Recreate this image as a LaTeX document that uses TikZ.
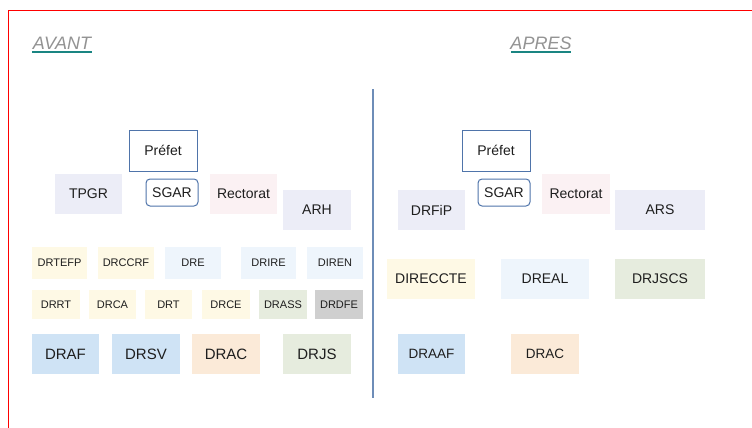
\documentclass[tikz,border=0pt]{standalone}
\usepackage{fontspec}
\setmainfont{Liberation Sans}
\definecolor{lav}{HTML}{ECEDF7}
\definecolor{pnk}{HTML}{FBF1F3}
\definecolor{yel}{HTML}{FEF9E5}
\definecolor{lbl}{HTML}{EEF5FC}
\definecolor{blu}{HTML}{CFE3F5}
\definecolor{pea}{HTML}{FBEAD8}
\definecolor{grn}{HTML}{E6ECDE}
\definecolor{gry}{HTML}{CFCFCF}
\definecolor{bord}{HTML}{4F74AA}
\definecolor{vline}{HTML}{6E8DB8}
\definecolor{teal}{HTML}{1A8582}
\definecolor{txt}{HTML}{1E1E1E}
\tikzset{
  org/.style={inner sep=0pt, text=txt, font=\fontsize{14}{16}\selectfont},
  sm/.style={font=\fontsize{11}{13}\selectfont},
  bg/.style={font=\fontsize{15}{17}\selectfont},
  md/.style={font=\fontsize{13.5}{16}\selectfont},
  ttl/.style={inner sep=0pt, text=gray!85, font=\fontsize{18}{20}\selectfont\itshape},
  uline/.style={teal, line width=2.5pt},
  topbox/.style={org, draw=bord, line width=1pt, fill=white},
}
% \bx{name}{x1}{y1}{x2}{y2}{fill}{style}{text}
\newcommand{\bx}[8]{%
  \fill[#6] (#2,#3) rectangle (#4,#5);
  \node[org,#7] (#1) at ({(#2+#4)/2},{(#3+#5)/2}) {#8};}
\begin{document}
\begin{tikzpicture}[x=1pt,y=-1pt]
\useasboundingbox (0,0) rectangle (752,428);
\fill[white] (0,0) rectangle (752,428);
% red frame
\draw[red, line width=1pt] (8.5,428) -- (8.5,10.5) -- (752,10.5);
% titles
\node[ttl] (avant) at (62,43) {AVANT};
\draw[uline] (32,52) -- (92,52);
\node[ttl] (apres) at (541,43) {APRES};
\draw[uline] (511,52) -- (571,52);
% separator
\draw[vline, line width=1.5pt] (373,89) -- (373,398);
% ---------- AVANT ----------
\node[topbox, minimum width=68pt, minimum height=41pt] (prefA) at (163,150.5) {Préfet};
\node[topbox, rounded corners=4pt, minimum width=52pt, minimum height=27pt] (sgarA) at (172,192.5) {SGAR};
\bx{tpgr}{55}{174}{122}{214}{lav}{}{TPGR}
\bx{rectA}{210}{174}{277}{214}{pnk}{}{Rectorat}
\bx{arh}{283}{190}{351}{230}{lav}{}{ARH}
% row 1
\bx{drtefp}{32}{247}{87}{279}{yel}{sm}{DRTEFP}
\bx{drccrf}{98}{247}{154}{279}{yel}{sm}{DRCCRF}
\bx{dre}{165}{247}{221}{279}{lbl}{sm}{DRE}
\bx{drire}{241}{247}{296}{279}{lbl}{sm}{DRIRE}
\bx{diren}{307}{247}{363}{279}{lbl}{sm}{DIREN}
% row 2
\bx{drrt}{32}{290}{80}{319}{yel}{sm}{DRRT}
\bx{drca}{89}{290}{136}{319}{yel}{sm}{DRCA}
\bx{drt}{145}{290}{192}{319}{yel}{sm}{DRT}
\bx{drce}{202}{290}{250}{319}{yel}{sm}{DRCE}
\bx{drass}{259}{290}{307}{319}{grn}{sm}{DRASS}
\bx{drdfe}{315}{290}{363}{319}{gry}{sm}{DRDFE}
% row 3
\bx{draf}{32}{334}{99}{374}{blu}{bg}{DRAF}
\bx{drsv}{112}{334}{180}{374}{blu}{bg}{DRSV}
\bx{dracA}{192}{334}{260}{374}{pea}{bg}{DRAC}
\bx{drjs}{283}{334}{351}{374}{grn}{bg}{DRJS}
% ---------- APRES ----------
\node[topbox, minimum width=68pt, minimum height=41pt] (prefB) at (496,150.5) {Préfet};
\node[topbox, rounded corners=4pt, minimum width=52pt, minimum height=27pt] (sgarB) at (504,192.5) {SGAR};
\bx{drfip}{398}{190}{465}{230}{lav}{}{DRFiP}
\bx{rectB}{542}{174}{610}{214}{pnk}{}{Rectorat}
\bx{ars}{615}{190}{705}{230}{lav}{}{ARS}
\bx{direccte}{387}{259}{475}{299}{yel}{}{DIRECCTE}
\bx{dreal}{501}{259}{589}{299}{lbl}{}{DREAL}
\bx{drjscs}{615}{259}{705}{299}{grn}{}{DRJSCS}
\bx{draaf}{398}{334}{465}{374}{blu}{md}{DRAAF}
\bx{dracB}{511}{334}{579}{374}{pea}{md}{DRAC}
\end{tikzpicture}
\end{document}
